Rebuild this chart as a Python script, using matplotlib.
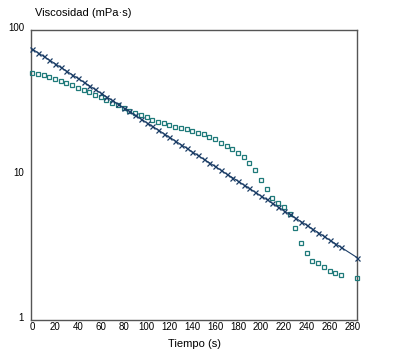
import matplotlib
matplotlib.use("Agg")
import matplotlib.pyplot as plt
import matplotlib.transforms as mtransforms
from matplotlib.ticker import FixedLocator, NullLocator, FixedFormatter

plt.rcParams['font.family'] = ['Liberation Sans', 'DejaVu Sans']

# Time (s)
tiempo = [0, 5, 10, 15, 20, 25, 30, 35, 40, 45, 50, 55, 60, 65, 70, 75, 80, 85, 90, 95,
          100, 105, 110, 115, 120, 125, 130, 135, 140, 145, 150, 155, 160, 165, 170, 175,
          180, 185, 190, 195, 200, 205, 210, 215, 220, 225, 230, 235, 240, 245, 250, 255,
          260, 265, 270, 284]

# Series with cross markers (straight decay)
visc_cruz = [74.3, 70.1, 66.1, 62.4, 58.9, 55.5, 52.4, 49.4, 46.6, 44.0, 41.5, 39.1, 36.9,
             34.8, 32.8, 31.0, 29.2, 27.6, 26.0, 24.5, 23.1, 21.8, 20.6, 19.4, 18.3, 17.3,
             16.3, 15.4, 14.5, 13.7, 12.9, 12.2, 11.5, 10.85, 10.2, 9.65, 9.11, 8.59, 8.11,
             7.65, 7.21, 6.81, 6.42, 6.06, 5.71, 5.39, 5.09, 4.80, 4.53, 4.27, 4.03, 3.80,
             3.58, 3.38, 3.19, 2.71]

# Series with square markers
visc_cuad = [50.8, 50.2, 48.9, 47.9, 46.4, 44.5, 43.5, 41.8, 40.0, 38.6, 37.6, 35.8, 34.7,
             32.9, 31.5, 30.5, 29.0, 27.9, 27.0, 26.1, 25.1, 24.1, 23.2, 22.8, 22.2, 21.6,
             21.2, 20.8, 20.2, 19.7, 19.2, 18.5, 17.7, 16.8, 16.0, 15.3, 14.3, 13.3, 12.1,
             10.8, 9.3, 8.06, 6.94, 6.41, 6.02, 5.39, 4.34, 3.42, 2.90, 2.56, 2.50, 2.33,
             2.20, 2.12, 2.06, 1.95]

xticks = [0, 20, 40, 60, 80, 100, 120, 140, 160, 180, 200, 220, 240, 260, 280]
yticks = [1, 10, 100]
ytick_labels = ["1", "10", "100"]

fig = plt.figure(figsize=(3.96, 3.61), dpi=100)
ax = fig.add_axes([31 / 396, (361 - 320.3) / 361, 326 / 396, 290 / 361])

ax.plot(tiempo, visc_cuad, linestyle='none', marker='s', markersize=2.4,
        markerfacecolor='none', markeredgecolor='#1f7a7a', markeredgewidth=0.9,
        clip_on=False, zorder=3)
ax.plot(tiempo, visc_cruz, color='#1b3d66', linewidth=0.8, marker='x',
        markersize=3.6, markeredgewidth=0.9, clip_on=False, zorder=4)

ax.set_yscale('log')
ax.set_ylim(1, 100)
ax.set_xlim(-1, 284)

ax.yaxis.set_major_locator(FixedLocator(yticks))
ax.yaxis.set_major_formatter(FixedFormatter(ytick_labels))
ax.yaxis.set_minor_locator(NullLocator())
ax.set_xticks(xticks)
ax.set_xticklabels([str(v) for v in xticks])

ax.tick_params(axis='both', length=0, labelsize=7, colors='black')
ax.tick_params(axis='x', pad=1)
ax.tick_params(axis='y', pad=5)
up = mtransforms.ScaledTranslation(0, 1.8 / 72, fig.dpi_scale_trans)
for lab in ax.get_yticklabels():
    lab.set_verticalalignment('center')
    lab.set_transform(lab.get_transform() + up)

for sp in ax.spines.values():
    sp.set_color('#555555')
    sp.set_linewidth(1.0)

ax.set_xlabel('Tiempo (s)', fontsize=8, labelpad=5)
fig.text(35 / 396, 1 - 12.5 / 361, 'Viscosidad (mPa·s)', fontsize=8,
         ha='left', va='center')

fig.savefig('out.png', dpi=100)
